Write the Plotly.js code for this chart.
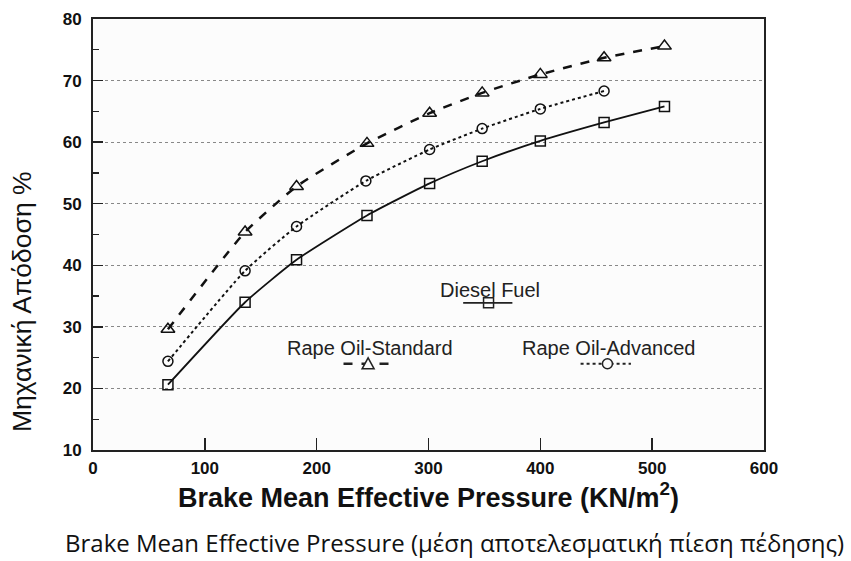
<!DOCTYPE html>
<html>
<head>
<meta charset="utf-8">
<script src="https://cdn.plot.ly/plotly-3.0.1.min.js"></script>
<style>html,body{margin:0;padding:0;background:#fff;}</style>
</head>
<body>
<div id="chart" style="width:851px;height:561px;"></div>
<script>
// ---- data ----
const bmepDiesel = [67, 136, 182, 245, 301, 348, 400, 457, 511];
const effDiesel = [20.6, 34.0, 40.9, 48.1, 53.3, 56.9, 60.2, 63.2, 65.8];

const bmepAdvanced = [67, 136, 182, 244, 301, 348, 400, 457];
const effAdvanced = [24.4, 39.1, 46.3, 53.7, 58.8, 62.2, 65.4, 68.3];

const bmepStandard = [67, 136, 182, 245, 301, 348, 400, 457, 511];
const effStandard = [29.6, 45.4, 52.8, 59.8, 64.7, 68.0, 71.0, 73.7, 75.6];

const seriesNames = ["Diesel Fuel", "Rape Oil-Standard", "Rape Oil-Advanced"];
const xTickVals = [0, 100, 200, 300, 400, 500, 600];
const yTickVals = [10, 20, 30, 40, 50, 60, 70, 80];

const xTitle = "Brake Mean Effective Pressure (KN/m<sup>2</sup>)";
const yTitle = "Μηχανική Απόδοση %";
const bottomText = "Brake Mean Effective Pressure (μέση αποτελεσματική πίεση πέδησης)";

// ---- traces ----
const traces = [
  {x: bmepDiesel, y: effDiesel, name: seriesNames[0], type: "scatter", mode: "lines+markers",
   line: {color: "#111", width: 1.8, shape: "spline", smoothing: 0.5},
   marker: {symbol: "square-open", size: 10, color: "#111", line: {width: 1.5}}},
  {x: bmepStandard, y: effStandard, name: seriesNames[1], type: "scatter", mode: "lines+markers",
   line: {color: "#111", width: 2.5, dash: "dash", shape: "spline", smoothing: 0.5},
   marker: {symbol: "triangle-up-open", size: 12, color: "#111", line: {width: 1.5}}},
  {x: bmepAdvanced, y: effAdvanced, name: seriesNames[2], type: "scatter", mode: "lines+markers",
   line: {color: "#111", width: 2, dash: "dot", shape: "spline", smoothing: 0.5},
   marker: {symbol: "circle-open", size: 10, color: "#111", line: {width: 1.5}}}
];

const tickFont = {family: "Liberation Sans, Arial, sans-serif", size: 17, color: "#111", weight: "bold"};
const legFont = {family: "Liberation Sans, Arial, sans-serif", size: 20, color: "#222"};

// legend keys drawn inside the plot, as in the original figure
const shapes = [
  {type: "line", xref: "x", yref: "y", x0: 331, x1: 375, y0: 33.9, y1: 33.9, line: {color: "#222", width: 1.8}},
  {type: "rect", xref: "x", yref: "y", xsizemode: "pixel", ysizemode: "pixel", xanchor: 353.7, yanchor: 33.9,
   x0: -5, x1: 5, y0: -5, y1: 5, line: {color: "#222", width: 1.5}, fillcolor: "rgba(0,0,0,0)"},
  {type: "line", xref: "x", yref: "y", x0: 224, x1: 268, y0: 24.0, y1: 24.0, line: {color: "#222", width: 2.5, dash: "dash"}},
  {type: "path", xref: "x", yref: "y", xsizemode: "pixel", ysizemode: "pixel", xanchor: 246, yanchor: 24.0,
   path: "M -6 -5 L 6 -5 L 0 6 Z", line: {color: "#222", width: 1.5}, fillcolor: "#fcfcfc"},
  {type: "line", xref: "x", yref: "y", x0: 436, x1: 481, y0: 24.0, y1: 24.0, line: {color: "#222", width: 2, dash: "dot"}},
  {type: "circle", xref: "x", yref: "y", xsizemode: "pixel", ysizemode: "pixel", xanchor: 460, yanchor: 24.0,
   x0: -5, x1: 5, y0: -5, y1: 5, line: {color: "#222", width: 1.5}, fillcolor: "#fcfcfc"}
];

const annotations = [
  {xref: "x", yref: "y", x: 355, y: 36.0, text: seriesNames[0], showarrow: false, font: legFont},
  {xref: "x", yref: "y", x: 247.6, y: 26.6, text: seriesNames[1], showarrow: false, font: legFont},
  {xref: "x", yref: "y", x: 460.7, y: 26.6, text: seriesNames[2], showarrow: false, font: legFont},
  {xref: "paper", yref: "paper", x: (22 - 93) / 671, y: (450 - 302) / 431, text: yTitle, textangle: -90,
   showarrow: false, xanchor: "center", yanchor: "middle",
   font: {family: "Liberation Sans, Arial, sans-serif", size: 26.5, color: "#111"}},
  {xref: "paper", yref: "paper", x: (454 - 93) / 671, y: -(542 - 450) / 431, text: bottomText,
   showarrow: false, xanchor: "center", yanchor: "middle",
   font: {family: "Open Sans, Noto Sans, sans-serif", size: 24, color: "#111"}}
];

const layout = {
  width: 851, height: 561,
  margin: {l: 93, r: 87, t: 19, b: 111},
  paper_bgcolor: "#ffffff", plot_bgcolor: "#fcfcfc", showlegend: false,
  xaxis: {
    range: [0, 600], tickvals: xTickVals, ticks: "inside", ticklen: 12, tickwidth: 1.5, tickcolor: "#222",
    showline: true, linecolor: "#222", linewidth: 2, mirror: true, showgrid: false, zeroline: false,
    tickfont: tickFont, ticklabelstandoff: 2,
    title: {text: xTitle, standoff: 9, font: {family: "Liberation Sans, Arial, sans-serif", size: 27, color: "#111", weight: "bold"}}
  },
  yaxis: {
    range: [10, 80], tickvals: yTickVals, ticks: "inside", ticklen: 10, tickwidth: 1.5, tickcolor: "#222",
    minor: {dtick: 5, tick0: 5, ticks: "inside", ticklen: 6, tickwidth: 1.2, tickcolor: "#222", showgrid: false},
    showline: true, linecolor: "#222", linewidth: 2, mirror: true,
    showgrid: true, gridcolor: "#888", griddash: "dot", gridwidth: 1, zeroline: false,
    tickfont: tickFont, ticklabelstandoff: 6
  },
  shapes: shapes,
  annotations: annotations
};

Plotly.newPlot("chart", traces, layout, {displayModeBar: false, staticPlot: true});
</script>
</body>
</html>
